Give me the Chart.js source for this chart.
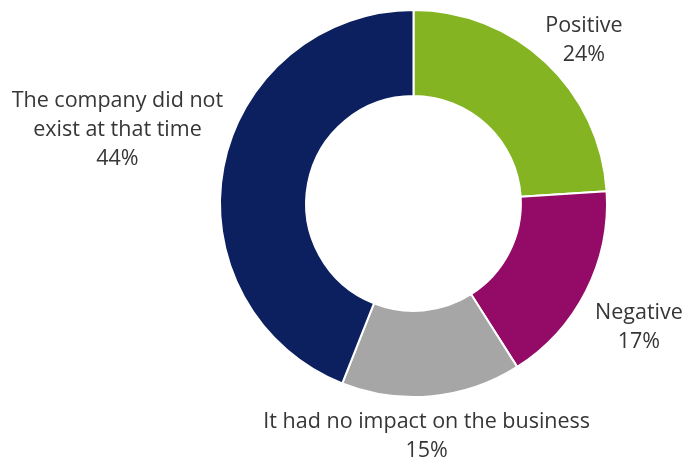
<!DOCTYPE html>
<html>
<head>
<meta charset="utf-8">
<script src="https://cdn.jsdelivr.net/npm/chart.js@4"></script>
<style>
  html, body { margin: 0; padding: 0; background: #fff; }
  #wrap { width: 684px; height: 464px; }
</style>
</head>
<body>
<div id="wrap"><canvas id="chart" width="684" height="464"></canvas></div>
<script>
// data
const categories = ['Positive', 'Negative', 'It had no impact on the business', 'The company did not exist at that time'];
const labelLines = [['Positive'], ['Negative'], ['It had no impact on the business'], ['The company did not', 'exist at that time']];
const shares = [24, 17, 15, 44];
const sliceColors = ['#84b422', '#930b67', '#a6a6a6', '#0c2060'];

// shift of each label block from the middle of its slice's outer edge
const labelShift = [[38, -22], [53, 36], [-5, 40], [-106, -37]];

const outsideLabels = {
  id: 'outsideLabels',
  afterDraw(chart) {
    const ctx = chart.ctx;
    const arcs = chart.getDatasetMeta(0).data;
    ctx.save();
    ctx.font = '21.5px "Open Sans"';
    ctx.fillStyle = '#363636';
    ctx.textAlign = 'center';
    ctx.textBaseline = 'middle';
    const lineH = 29;
    arcs.forEach((arc, i) => {
      const p = arc.getProps(['x', 'y', 'startAngle', 'endAngle', 'outerRadius'], true);
      const mid = (p.startAngle + p.endAngle) / 2;
      const cx = p.x + Math.cos(mid) * p.outerRadius + labelShift[i][0];
      const cy = p.y + Math.sin(mid) * p.outerRadius + labelShift[i][1];
      const lines = labelLines[i].concat([shares[i] + '%']);
      const top = cy - (lines.length - 1) * lineH / 2;
      lines.forEach((t, k) => ctx.fillText(t, cx, top + k * lineH));
    });
    ctx.restore();
  }
};

new Chart(document.getElementById('chart').getContext('2d'), {
  type: 'doughnut',
  data: {
    labels: categories,
    datasets: [{
      data: shares,
      backgroundColor: sliceColors,
      borderColor: '#ffffff',
      borderWidth: 2
    }]
  },
  options: {
    responsive: false,
    animation: false,
    cutout: '55.5%',
    layout: { padding: { left: 219, right: 76, top: 9, bottom: 66 } },
    plugins: {
      legend: { display: false },
      tooltip: { enabled: false }
    }
  },
  plugins: [outsideLabels]
});
</script>
</body>
</html>
